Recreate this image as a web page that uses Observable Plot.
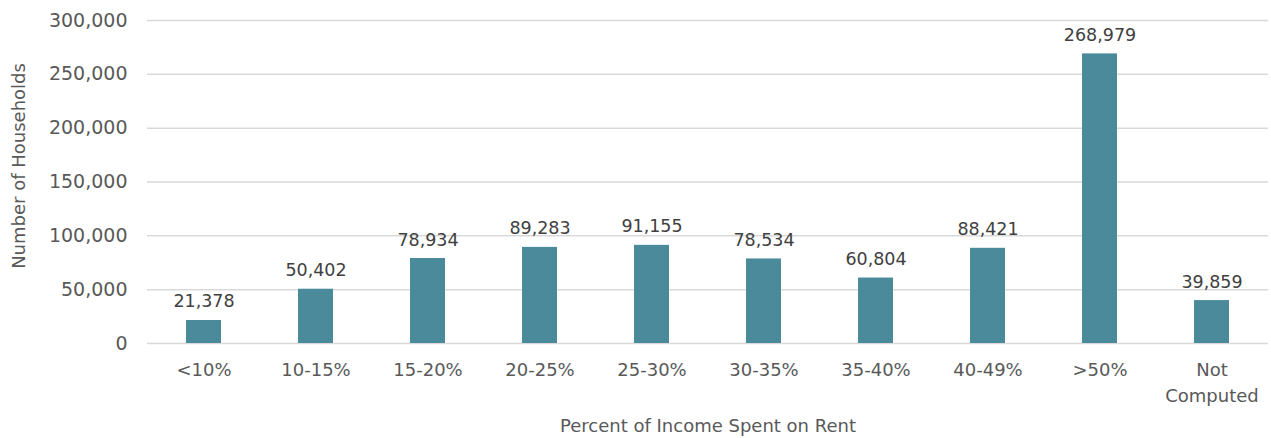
<!DOCTYPE html>
<html>
<head>
<meta charset="utf-8">
<script src="https://cdn.jsdelivr.net/npm/d3@7"></script>
<script src="https://cdn.jsdelivr.net/npm/@observablehq/plot@0.6"></script>
<style>
  html, body { margin: 0; padding: 0; background: #fff; }
</style>
</head>
<body>
<div id="chart"></div>
<script>
const categories = ["<10%", "10-15%", "15-20%", "20-25%", "25-30%", "30-35%", "35-40%", "40-49%", ">50%", "Not Computed"];
const households = [21378, 50402, 78934, 89283, 91155, 78534, 60804, 88421, 268979, 39859];
const yTicks = [0, 50000, 100000, 150000, 200000, 250000, 300000];

const data = categories.map((c, i) => ({category: c, value: households[i]}));
const fmt = d3.format(",");

const chart = Plot.plot({
  width: 1271,
  height: 438,
  marginLeft: 147,
  marginRight: 3,
  marginTop: 20,
  marginBottom: 95,
  style: {fontFamily: "'DejaVu Sans', sans-serif", background: "#fff"},
  x: {domain: categories, paddingInner: 0.69, paddingOuter: 0.345, label: null},
  y: {domain: [0, 300000], label: null},
  marks: [
    Plot.gridY(yTicks, {stroke: "#d9d9d9", strokeOpacity: 1, strokeWidth: 1.5}),
    Plot.barY(data, {x: "category", y: "value", fill: "#4a8a9a", inset: 0}),
    Plot.text(data, {x: "category", y: "value", text: d => fmt(d.value), dy: -13, lineAnchor: "bottom", fontSize: 17.5, fill: "#404040"}),
    Plot.axisY(yTicks, {tickSize: 0, tickPadding: 20, tickFormat: fmt, fontSize: 19, color: "#595959", label: null}),
    Plot.axisX({tickSize: 0, tickPadding: 15, fontSize: 18, color: "#595959", label: null,
      tickFormat: d => d === "Not Computed" ? "Not\nComputed" : d, lineHeight: 1.4}),
    Plot.text(["Percent of Income Spent on Rent"], {frameAnchor: "bottom", dy: 88, text: d => d, fontSize: 18, fill: "#595959", lineAnchor: "bottom"}),
    Plot.text(["Number of Households"], {frameAnchor: "left", dx: -128, dy: -16, text: d => d, textAnchor: "middle", fontSize: 18, fill: "#595959", rotate: -90})
  ]
});
document.getElementById("chart").appendChild(chart);
</script>
</body>
</html>
